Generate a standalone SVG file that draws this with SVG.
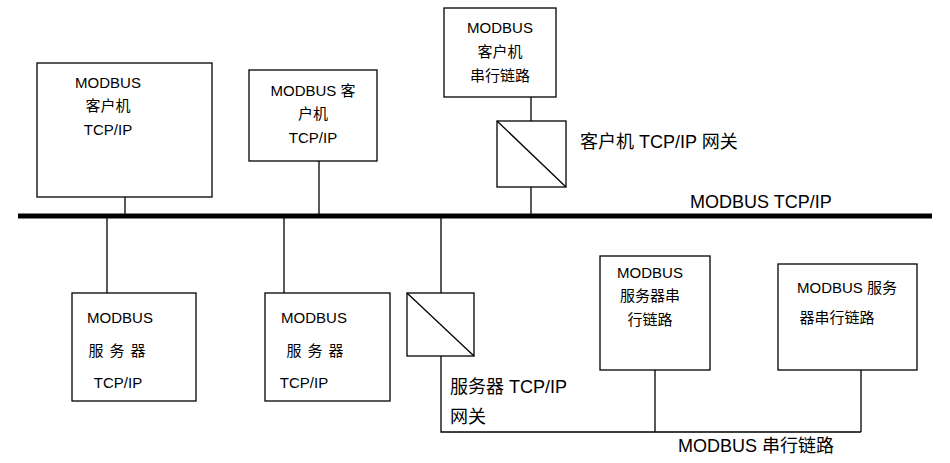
<svg xmlns="http://www.w3.org/2000/svg" width="950" height="463" viewBox="0 0 950 463">
<style>
.b{fill:#fff;stroke:#000;stroke-width:1.3}
.l{stroke:#000;stroke-width:1.3;fill:none}
text{font-family:"Liberation Sans","Noto Sans CJK SC",sans-serif;font-size:15px;fill:#000}
.c{text-anchor:middle}
.g{font-size:18px}
</style>
<rect width="950" height="463" fill="#fff"/>
<g id="connectors">
<line x1="18" y1="216" x2="932" y2="216" stroke="#000" stroke-width="5"/>
<path class="l" d="M125 197V216M319 161V216M531 97V121M531 187V216M107 216V293M284 216V293M441 216V293M441 356V432H861M655 370V432M861 370V432"/>
</g>
<g id="n1"><rect class="b" x="37" y="63" width="175" height="134"/>
<text class="c" x="108" y="88">MODBUS</text><text class="c" x="108" y="111">客户机</text><text class="c" x="108" y="135">TCP/IP</text></g>
<g id="n2"><rect class="b" x="249" y="70" width="128" height="91"/>
<text class="c" x="313" y="96">MODBUS 客</text><text class="c" x="313" y="119">户机</text><text class="c" x="313" y="143">TCP/IP</text></g>
<g id="n3"><rect class="b" x="444" y="8" width="112" height="89"/>
<text class="c" x="500" y="33">MODBUS</text><text class="c" x="500" y="57">客户机</text><text class="c" x="500" y="81">串行链路</text></g>
<g id="gw1"><rect class="b" x="497" y="121" width="69" height="66"/><line class="l" x1="497" y1="121" x2="566" y2="187"/>
<text class="g" x="580" y="148">客户机 TCP/IP 网关</text></g>
<text id="busLabel" class="g" x="690" y="208">MODBUS TCP/IP</text>
<g id="n4"><rect class="b" x="72" y="293" width="124" height="108"/>
<text class="c" x="120" y="323">MODBUS</text><text class="c" x="120" y="356" letter-spacing="6">服务器</text><text class="c" x="118" y="388">TCP/IP</text></g>
<g id="n5"><rect class="b" x="265" y="293" width="125" height="108"/>
<text class="c" x="314" y="323">MODBUS</text><text class="c" x="318" y="356" letter-spacing="6">服务器</text><text class="c" x="304" y="388">TCP/IP</text></g>
<g id="gw2"><rect class="b" x="407" y="293" width="67" height="63"/><line class="l" x1="407" y1="293" x2="474" y2="356"/>
<text class="g" x="450" y="393">服务器 TCP/IP</text><text class="g" x="450" y="423">网关</text></g>
<g id="n6"><rect class="b" x="600" y="256" width="110" height="114"/>
<text class="c" x="650" y="278">MODBUS</text><text class="c" x="650" y="301">服务器串</text><text class="c" x="650" y="325">行链路</text></g>
<g id="n7"><rect class="b" x="778" y="264" width="139" height="106"/>
<text class="c" x="847" y="293">MODBUS 服务</text><text class="c" x="837" y="323">器串行链路</text></g>
<text id="serialLabel" class="g" x="678" y="452">MODBUS 串行链路</text>
</svg>
